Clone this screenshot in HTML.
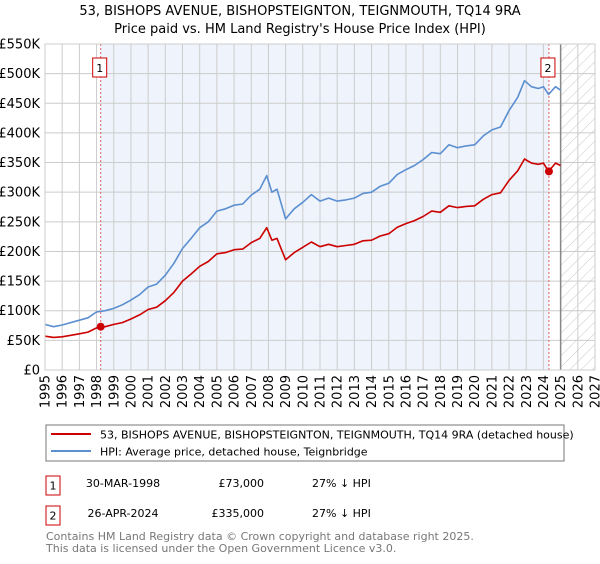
<!DOCTYPE html>
<html><head><meta charset="utf-8"><style>
body{margin:0;background:#fff;width:600px;height:560px;overflow:hidden;font-family:"DejaVu Sans","Liberation Sans",sans-serif;}
svg text{font-family:"DejaVu Sans","Liberation Sans",sans-serif;}
</style></head><body>
<svg id="chart" width="600" height="560" viewBox="0 0 600 560" xmlns="http://www.w3.org/2000/svg">
<defs><pattern id="hatch" width="8" height="8" patternUnits="userSpaceOnUse" patternTransform="rotate(45)"><line x1="0" y1="0" x2="0" y2="8" stroke="#c8c8c8" stroke-width="1"/></pattern></defs>
<text x="300" y="15" text-anchor="middle" font-size="13">53, BISHOPS AVENUE, BISHOPSTEIGNTON, TEIGNMOUTH, TQ14 9RA</text>
<text x="300" y="33" text-anchor="middle" font-size="13">Price paid vs. HM Land Registry's House Price Index (HPI)</text>
<g id="plot"></g>
<g>
<rect x="46" y="425" width="518" height="36" fill="#fff" stroke="#777"/>
<line x1="51" y1="434" x2="91" y2="434" stroke="#cc0000" stroke-width="2"/>
<text x="100" y="438.5" font-size="11">53, BISHOPS AVENUE, BISHOPSTEIGNTON, TEIGNMOUTH, TQ14 9RA (detached house)</text>
<line x1="51" y1="451" x2="91" y2="451" stroke="#5b8fd0" stroke-width="2"/>
<text x="100" y="455.5" font-size="11">HPI: Average price, detached house, Teignbridge</text>
</g>
<g font-size="11">
<rect x="46" y="476" width="14" height="19" fill="#fff" stroke="#cc0000"/>
<text x="53" y="489.5" text-anchor="middle">1</text>
<text x="123" y="487" text-anchor="middle">30-MAR-1998</text>
<text x="264" y="487" text-anchor="end">£73,000</text>
<text x="312" y="487">27% ↓ HPI</text>
</g>
<g font-size="11">
<rect x="46" y="506" width="14" height="19" fill="#fff" stroke="#cc0000"/>
<text x="53" y="519.5" text-anchor="middle">2</text>
<text x="123" y="517" text-anchor="middle">26-APR-2024</text>
<text x="264" y="517" text-anchor="end">£335,000</text>
<text x="312" y="517">27% ↓ HPI</text>
</g>
<text x="46" y="540" font-size="11" fill="#777">Contains HM Land Registry data © Crown copyright and database right 2025.</text>
<text x="46" y="552" font-size="11" fill="#777">This data is licensed under the Open Government Licence v3.0.</text>
</svg>
<script>
const years=[1995,1995.5,1996,1997,1997.5,1998,1998.5,1999,1999.5,2000,2000.5,2001,2001.5,2002,2002.5,2003,2003.5,2004,2004.5,2005,2005.5,2006,2006.5,2007,2007.5,2007.9,2008.2,2008.5,2009,2009.5,2010,2010.5,2011,2011.5,2012,2012.5,2013,2013.5,2014,2014.5,2015,2015.5,2016,2016.5,2017,2017.5,2018,2018.5,2019,2019.5,2020,2020.5,2021,2021.5,2022,2022.5,2022.9,2023.3,2023.7,2024,2024.3,2024.7,2025];
const hpiValues=[77,73,76,84,88,98,100,104,110,118,127,140,145,160,180,205,222,240,250,268,272,278,280,295,305,328,300,305,255,272,283,296,285,290,285,287,290,298,300,310,315,330,338,345,355,367,365,380,375,378,380,395,405,410,438,460,488,478,475,478,465,478,472];
const priceValues=[57,55,56,61,64,71,73,77,80,86,93,102,106,117,131,150,162,175,183,196,198,203,204,215,222,240,219,222,186,198,207,216,208,212,208,210,212,218,219,226,230,241,247,252,259,268,266,277,274,276,277,288,296,299,320,336,356,349,347,349,335,349,345];
const yTicks=[0,50,100,150,200,250,300,350,400,450,500,550];
const yTickLabels=["£0","£50K","£100K","£150K","£200K","£250K","£300K","£350K","£400K","£450K","£500K","£550K"];
const xTicks=[1995,1996,1997,1998,1999,2000,2001,2002,2003,2004,2005,2006,2007,2008,2009,2010,2011,2012,2013,2014,2015,2016,2017,2018,2019,2020,2021,2022,2023,2024,2025,2026,2027];
const saleYears=[1998.24,2024.32];
const saleValues=[73,335];
const saleLabels=["1","2"];

const L=45,R=595,T=44,B=370,x0=1995,x1=2027,yMax=550,dataEnd=2025.0;
const X=v=>L+(v-x0)*(R-L)/(x1-x0);
const Y=v=>B-v*(B-T)/yMax;
const NS="http://www.w3.org/2000/svg";
const g=document.getElementById('plot');
function mk(tag,attrs){const e=document.createElementNS(NS,tag);for(const k in attrs)e.setAttribute(k,attrs[k]);g.appendChild(e);return e;}

let e=mk('rect',{x:X(saleYears[0]),y:T,width:X(saleYears[1])-X(saleYears[0]),height:B-T,fill:'#eef3fc'});


e=mk('rect',{x:X(dataEnd),y:T,width:R-X(dataEnd),height:B-T,fill:'url(#hatch)'});



yTicks.forEach((t,i)=>{
 let l=mk('line',{x1:L,x2:R,y1:Y(t),y2:Y(t),stroke:'#cccccc','stroke-width':1});
 
 
 let tx=mk('text',{x:L-5,y:Y(t)+4.5,'text-anchor':'end','font-size':13});
 tx.textContent=yTickLabels[i];
 
 
});
xTicks.forEach(t=>{
 let l=mk('line',{x1:X(t),x2:X(t),y1:T,y2:B,stroke:'#cccccc','stroke-width':1});
 
 
 let tx=mk('text',{x:0,y:0,'text-anchor':'end','font-size':13,transform:`translate(${X(t)+4.5},${B+5}) rotate(-90)`});
 tx.textContent=String(t);
 
 
});
e=mk('line',{x1:X(dataEnd),x2:X(dataEnd),y1:T,y2:B,stroke:'#888','stroke-width':1.5});



saleYears.forEach((s,i)=>{
 let l=mk('line',{x1:X(s),x2:X(s),y1:T,y2:B,stroke:'#e06060','stroke-width':1,'stroke-dasharray':'2,2'});
 
 
});

function line(vals,color,name){
 const d=years.map((yr,i)=>(i?'L':'M')+X(yr).toFixed(1)+','+Y(vals[i]).toFixed(1)).join(' ');
 const p=mk('path',{d:d,fill:'none',stroke:color,'stroke-width':1.6,'stroke-linejoin':'round'});
 
 
}
line(hpiValues,'#5b8fd0','hpi-line');
line(priceValues,'#cc0000','price-paid-line');

saleYears.forEach((s,i)=>{
 let c=mk('circle',{cx:X(s),cy:Y(saleValues[i]),r:4,fill:'#cc0000'});
 
 
 let bx=mk('rect',{x:X(s)-8,y:58,width:14,height:19,fill:'#fff',stroke:'#cc0000'});
 
 
 let t=mk('text',{x:X(s)-1,y:72,'text-anchor':'middle','font-size':11});
 t.textContent=saleLabels[i];
 
 
});
e=mk('rect',{x:L,y:T,width:R-L,height:B-T,fill:'none',stroke:'#cccccc'});


</script>
</body></html>
